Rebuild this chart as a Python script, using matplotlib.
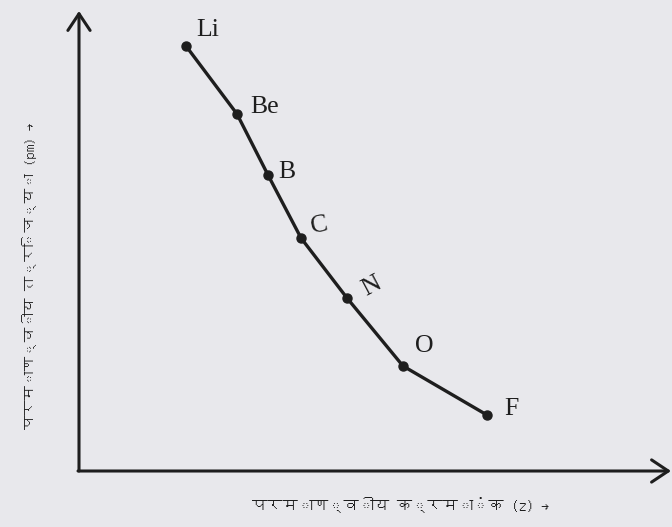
import matplotlib
matplotlib.use("Agg")
import matplotlib.pyplot as plt
from matplotlib import font_manager
from matplotlib.ft2font import FT2Font

# values (arbitrary units, axes have no ticks)
elements = ["Li", "Be", "B", "C", "N", "O", "F"]
atomic_pos = [107, 158, 189, 222, 268, 324, 408]
radius = [425, 357, 296, 233, 173, 105, 56]
# label offsets in pixels from each point, and label rotation
label_dx = [22, 28, 19, 18, 25, 21, 24]
label_dy = [16, 7, 3, 12, 12, 20, 6]
label_rot = [0, 0, 0, 10, 28, 0, 0]

xlabel = "परमाण्वीय क्रमांक (z) →"
ylabel = "परमाण्वीय त्रिज्या (pm) →"

INK = "#1e1e1e"
BG = "#e8e8ec"


def devanagari_family():
    for path in font_manager.findSystemFonts():
        try:
            if FT2Font(path).get_char_index(ord("प")):
                font_manager.fontManager.addfont(path)
                return font_manager.FontProperties(fname=path).get_name()
        except Exception:
            continue
    return None


dev = devanagari_family()
label_family = ([dev] if dev else []) + ["Liberation Serif", "DejaVu Serif"]

W, H = 672, 527
fig = plt.figure(figsize=(W / 100, H / 100), dpi=100, facecolor=BG)
# axes frame: origin at pixel (79, 471), x arrow tip at 672, y arrow tip at 11
ax = fig.add_axes([79 / W, (H - 471) / H, (672 - 79) / W, (471 - 11) / H])
ax.set_xlim(0, 593)
ax.set_ylim(0, 460)
ax.set_facecolor(BG)
ax.axis("off")

arrow = dict(arrowstyle="->,head_length=0.6,head_width=0.4", lw=2.2,
             color=INK, mutation_scale=20, shrinkA=0, shrinkB=0)
ax.annotate("", xy=(0, 460), xytext=(0, 0), arrowprops=arrow, annotation_clip=False)
ax.annotate("", xy=(592, 0), xytext=(-1, 0), arrowprops=arrow, annotation_clip=False)

ax.plot(atomic_pos, radius, color=INK, lw=2.4, marker="o", ms=6.5,
        mfc=INK, mec=INK, solid_capstyle="round")

for name, x, y, dx, dy, rot in zip(elements, atomic_pos, radius, label_dx, label_dy, label_rot):
    ax.annotate(name, (x, y), xytext=(dx, dy), textcoords="offset pixels",
                ha="center", va="center", fontsize=18.5, rotation=rot,
                family=["Liberation Serif", "DejaVu Serif"], color=INK)

fig.text(401 / W, 1 - 505 / H, xlabel, ha="center", va="center",
         fontsize=11, family=label_family, color=INK)
fig.text(30 / W, 1 - 276 / H, ylabel, ha="center", va="center", rotation=90,
         fontsize=10.5, family=label_family, color=INK)

fig.savefig("out.png", dpi=100, facecolor=BG)
